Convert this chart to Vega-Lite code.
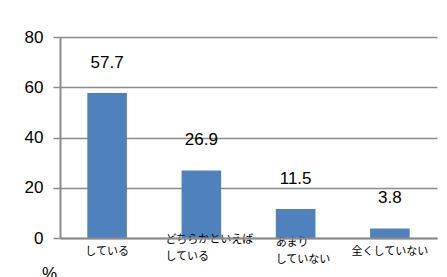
{
  "$schema": "https://vega.github.io/schema/vega-lite/v6.json",
  "width": 377,
  "height": 201,
  "autosize": "none",
  "padding": {"left": 60, "top": 37, "right": 10, "bottom": 39},
  "background": "white",
  "config": {"view": {"stroke": null}},
  "data": {"values": [
    {"cat": "している", "value": 57.7},
    {"cat": "どちらかといえば|している", "value": 26.9},
    {"cat": "あまり|していない", "value": 11.5},
    {"cat": "全くしていない", "value": 3.8}
  ]},
  "encoding": {
    "x": {
      "field": "cat", "type": "nominal", "sort": null,
      "scale": {"paddingInner": 0.58, "paddingOuter": 0.29},
      "axis": {
        "title": null,
        "zindex": 1,
        "labelAngle": 0,
        "labelExpr": "split(datum.label, '|')",
        "labelFont": "Noto Sans CJK JP",
        "labelFontSize": 11,
        "labelLineHeight": 17,
        "labelColor": "#000000",
        "labelBaseline": "top",
        "labelAlign": {"condition": {"test": "datum.index > 0.2 && datum.index < 0.8", "value": "left"}, "value": "center"},
        "labelOffset": {"condition": [
          {"test": "datum.label == 'どちらかといえば|している'", "value": -36},
          {"test": "datum.label == 'あまり|していない'", "value": -20}
        ], "value": 0},
        "labelPadding": {"condition": [
          {"test": "datum.label == 'どちらかといえば|している'", "value": -5},
          {"test": "datum.label == 'あまり|していない'", "value": -2}
        ], "value": 7},
        "ticks": false,
        "domainColor": "#8c8c8c",
        "domainWidth": 2,
        "labelOverlap": false,
        "labelBound": false
      }
    },
    "y": {
      "field": "value", "type": "quantitative",
      "scale": {"domain": [0, 80]},
      "axis": {
        "values": [0, 20, 40, 60, 80],
        "title": "%",
        "titleAngle": 0,
        "titleX": -11,
        "titleY": 228,
        "titleAlign": "center",
        "titleBaseline": "top",
        "titleFont": "Liberation Sans",
        "titleFontWeight": "normal",
        "titleFontSize": 17,
        "titleColor": "#000000",
        "labelFont": "Liberation Sans",
        "labelFontSize": 17,
        "labelColor": "#000000",
        "labelPadding": 10,
        "tickSize": 7,
        "tickColor": "#8c8c8c",
        "tickWidth": 1.5,
        "domainColor": "#8c8c8c",
        "domainWidth": 2,
        "gridColor": "#8c8c8c",
        "gridWidth": 1.5
      }
    }
  },
  "layer": [
    {"mark": {"type": "bar", "color": "#4F81BD"}},
    {
      "mark": {"type": "text", "dy": -30, "baseline": "middle", "font": "Liberation Sans", "fontSize": 17, "color": "#000000"},
      "encoding": {"text": {"field": "value", "type": "quantitative", "format": ".1f"}}
    }
  ]
}
